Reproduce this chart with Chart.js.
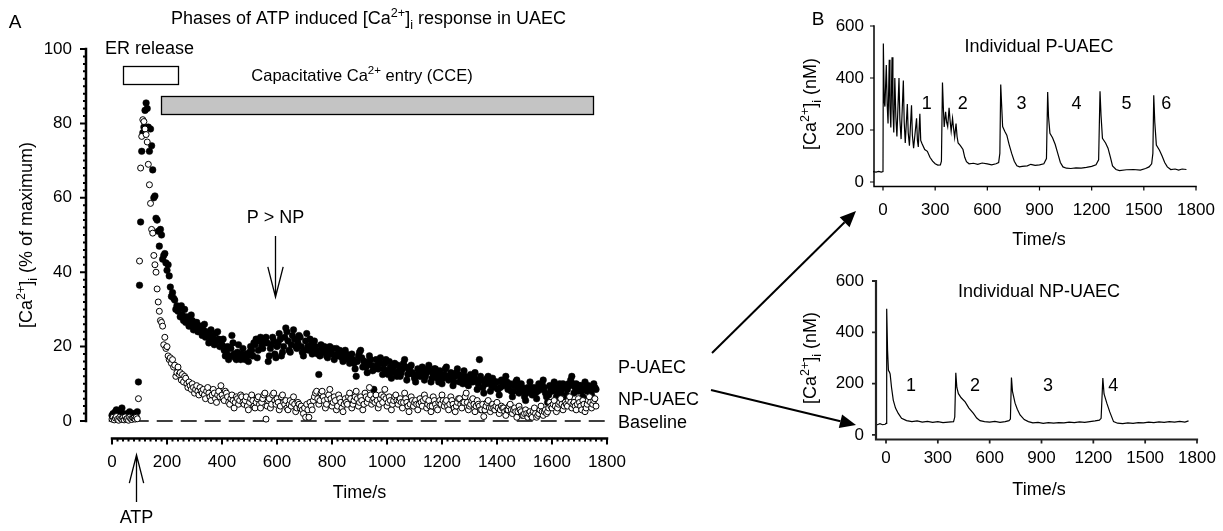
<!DOCTYPE html>
<html>
<head>
<meta charset="utf-8">
<script src="https://cdn.jsdelivr.net/npm/chart.js@4.4.1/dist/chart.umd.min.js"></script>
<style>
  html, body { margin: 0; padding: 0; background: #fff; }
  #wrap { position: relative; width: 1223px; height: 531px; overflow: hidden; }
  canvas { position: absolute; left: 0; top: 0; }
</style>
</head>
<body>
<div id="wrap">
  <canvas id="chartA" width="1223" height="531"></canvas>
  <canvas id="chartB1" width="1223" height="531"></canvas>
  <canvas id="chartB2" width="1223" height="531"></canvas>
</div>
<script>
// ---------- panel A : averaged response, % of maximum ----------
const sampleStep = 4; // seconds between frames

const pUAEC = [
  1.5, 2, 1, 2.5, 3, 2, 1, 1.5, 2.5, 3.5, 2, 1, 0.5, 1.5, 2, 1, 2.5, 1.5, 1, 2,
  1.5, 2, 1, 2.5, 10.5, 36.5, 53.5, 72.5, 77.5, 79, 83.5, 85.5, 84, 79, 72.5, 78.5, 74, 67.5, 60, 60.5,
  54.5, 54, 51, 47, 51.5, 50, 43.5, 44.5, 45, 42.5, 40.5, 42, 39, 36, 33.5, 34.5, 33, 32.5, 30, 31,
  29.5, 30, 28, 31, 28.5, 27, 30, 26.5, 28, 27.5, 25.5, 26, 28.5, 27, 24.5, 26, 25, 26.5, 24, 25.5,
  24, 25.5, 23, 24.5, 26, 22.5, 24, 23.5, 21, 22.5, 24.5, 23, 22, 20.5, 23.5, 21.5, 24, 22, 20, 21.5,
  20.5, 22, 19, 17.5, 18.5, 20, 16.5, 17.5, 19.5, 23, 21, 18, 17, 16.5, 18.5, 20.5, 17, 16.5, 18, 19.5,
  17, 16.5, 18, 17.5, 16, 18.5, 20, 19, 17.5, 21, 20.5, 22, 17, 19, 21.5, 22.5, 20, 19.5, 21, 22,
  22.5, 21, 16, 17.5, 19.5, 20.5, 22.5, 21.5, 18, 17, 20, 21, 23.5, 22, 17.5, 18.5, 20, 22.5, 25, 24,
  21.5, 19, 18.5, 20.5, 23, 24.5, 22, 20, 19.5, 21, 23, 22.5, 20, 18.5, 17.5, 19, 21.5, 23.5, 20, 19,
  22, 20.5, 18, 19.5, 21.5, 20, 19, 18, 12.5, 17.5, 20.5, 19.5, 18.5, 20, 19.5, 17.5, 17, 18.5, 20, 19,
  18, 19.5, 16.5, 17.5, 19.5, 18, 17.5, 19, 18.5, 17, 16, 17.5, 19, 18, 17, 16.5, 15.5, 17, 18, 16.5,
  15.5, 14, 12, 16, 17.5, 18.5, 19, 17, 14.5, 16, 16, 14.5, 13, 15.5, 17.5, 16.5, 15, 13.5, 8.5, 14,
  16.5, 15, 14, 15.5, 17, 15.5, 12.5, 14, 15.5, 16.5, 13.5, 12.5, 16, 14.5, 11.5, 13, 14.5, 15.5, 13, 12,
  15, 13.5, 12, 13, 14, 15.5, 16.5, 14.5, 11, 12.5, 13.5, 14.5, 15, 13, 12.5, 11.5, 10.5, 12, 14, 13,
  12, 13, 14.5, 13.5, 11, 12, 13, 14, 15, 13.5, 10.5, 11.5, 12.5, 14, 14, 12.5, 11.5, 10.5, 13.5, 12.5,
  10, 11.5, 12.5, 14, 14.5, 12, 11, 12, 13, 11.5, 9.5, 10.5, 12, 13, 14, 12.5, 10.5, 11.5, 12, 10,
  13.5, 12, 11, 10, 9.5, 11, 12.5, 11.5, 10.5, 12, 13, 11, 8.5, 10, 16.5, 12, 11, 9, 7.5, 10,
  10, 11.5, 12, 10.5, 8, 9.5, 11.5, 10, 9, 10.5, 10.5, 8.5, 7, 9, 11, 10, 9.5, 11, 12, 10.5,
  8.5, 9.5, 10, 8, 6.5, 8, 9.5, 10.5, 11, 9, 7.5, 8.5, 10, 9, 8, 6.5, 5.5, 7.5, 9, 8,
  10.5, 9, 7, 8, 9, 7.5, 6, 8, 10, 9.5, 8.5, 10, 11, 9, 7.5, 6.5, 5, 7, 9.5, 8.5,
  8, 9.5, 10.5, 9, 6.5, 7.5, 9, 10, 7.5, 8.5, 10, 9, 5.5, 7, 8.5, 10, 9.5, 11, 12, 10,
  7.5, 9, 10, 8.5, 8, 9.5, 9.5, 8, 6.5, 8.5, 10.5, 9, 8, 9.5, 9, 8, 7, 8.5, 10, 9,
  8.5
];

const npUAEC = [
  0.5, 1, 0.3, 0.8, 1.2, 0.5, 0.2, 1, 0.6, 0.4, 0.9, 0.3, 1.1, 0.5, 0.7, 0.2, 1, 0.6, 0.4, 0.8,
  0.8, 0.5, 1, 0.6, 6, 43, 68, 76.5, 81, 80.5, 78.5, 77, 75, 69, 63.5, 58.5, 51.5, 50.5, 44.5, 42,
  40, 35.5, 32, 29.5, 27, 26.5, 25.5, 20.5, 22.5, 19.5, 20, 17.5, 16.5, 17, 15.5, 16.5, 14.5, 15, 12, 13,
  14.5, 12.5, 13, 11, 12.5, 10.5, 12, 11.5, 10, 9, 10.5, 9.5, 8.5, 10, 9, 7.5, 8.5, 9.5, 8, 7,
  9, 8, 7.5, 8.5, 7, 6, 8, 9, 7.5, 6.5, 5.5, 7, 8.5, 7.5, 6, 5, 7, 8, 6.5, 9.5,
  7, 6, 5.5, 8, 7.5, 6.5, 5, 4.5, 6, 7, 5.5, 3.5, 5, 6.5, 6, 4.5, 5.5, 7, 6.5, 5,
  4.5, 5.5, 6.5, 4, 3, 5, 6, 7, 5.5, 4, 3.5, 5, 6, 6.5, 4.5, 3.5, 5, 6, 7, 7.5,
  0.5, 4, 5.5, 6, 3.5, 4.5, 7, 7.5, 5.5, 4.5, 6, 5, 3, 4, 6.5, 7, 5, 4.5, 5.5, 3.5,
  3, 4.5, 5.5, 4, 5, 6.5, 4.5, 2.5, 3.5, 5, 4.5, 3.5, 4, 3, 2, 3.5, 1, 4.5, 3, 1,
  5, 4, 3, 5.5, 6.5, 7.5, 8, 6, 4.5, 5.5, 7.5, 8, 6.5, 5.5, 3.5, 4.5, 6, 7, 8.5, 6,
  4, 5, 6.5, 5.5, 3, 4, 7, 6, 5, 3.5, 2.5, 4.5, 6, 5, 4.5, 6.5, 7.5, 6, 3.5, 4.5,
  5.5, 6.5, 8, 6, 4, 5, 6.5, 5.5, 3, 4.5, 7.5, 6.5, 5, 6, 9, 7, 4.5, 5.5, 6, 5,
  7, 5.5, 3.5, 4.5, 6, 7, 5, 6.5, 8.5, 6, 4, 5, 6.5, 5.5, 3, 4.5, 5.5, 6.5, 7, 5.5,
  4.5, 5.5, 6, 5, 3.5, 5, 7.5, 6, 5, 4, 2.5, 4.5, 6.5, 5.5, 4, 5, 5.5, 4.5, 3, 4.5,
  6, 5, 4, 5.5, 7, 6, 3.5, 4.5, 5.5, 4, 2.5, 4, 6.5, 5.5, 4.5, 3.5, 3, 5, 5.5, 4.5,
  7, 5.5, 4, 5, 5.5, 4, 3, 4.5, 6.5, 5.5, 4.5, 3.5, 2.5, 4, 5, 6, 6, 4.5, 3.5, 5,
  5, 6.5, 7.5, 5, 3, 4, 4.5, 5.5, 6, 4.5, 2.5, 4, 5.5, 4.5, 4, 3, 3, 4.5, 1.2, 3,
  4, 5, 5.5, 3.5, 2.5, 3.5, 4.5, 3.5, 3, 4, 5, 3.5, 2, 3, 4, 3.5, 3.5, 2.5, 1.5, 3,
  3, 4, 4.5, 3, 2, 3, 3.5, 2.5, 1, 2.5, 4, 3, 2.5, 1.5, 1.5, 2, 3, 2, 1, 2,
  2.5, 1.5, 1, 2.5, 3.5, 2, 1, 1.5, 2, 3, 4, 2.5, 1.5, 2.5, 3, 2, 2.5, 3.5, 5, 4,
  3.5, 4.5, 5.5, 4, 2.5, 3.5, 4.5, 5, 6, 4.5, 3, 4, 5, 4.5, 4, 5.5, 6.5, 5, 3.5, 4.5,
  5, 4, 3, 4.5, 6, 5, 4, 3, 5.5, 4.5, 2.5, 3.5, 4.5, 5.5, 6.5, 5, 3.5, 4.5, 5.5, 6,
  4
];

const timeA = pUAEC.map((v, i) => i * sampleStep);
const baselineX = [-12, 1800];
const baselineY = [0, 0];
const erPhase = [40, 240];     // s
const ccePhase = [178, 1749];  // s
const atpTime = 87;
const pnpTime = 593;

const ticksAx = [0, 200, 400, 600, 800, 1000, 1200, 1400, 1600, 1800];
const ticksAy = [0, 20, 40, 60, 80, 100];

// ---------- panel B : single cell traces, nM ----------
const traceP = [
  [-57,40],[-40,38],[-25,41],[-10,38],[0,40],[2,533],[7,310],[11,290],[19,450],[24,300],
  [29,225],[36,470],[40,290],[45,210],[52,480],[57,280],[62,190],[68,400],[74,250],[80,175],
  [92,400],[97,240],[104,165],[117,390],[122,230],[128,150],[140,300],[145,190],[152,140],
  [164,295],[169,180],[176,130],[193,245],[198,160],[203,135],[212,262],[217,160],[224,148],
  [240,125],[255,118],[270,95],[285,80],[300,70],[315,65],[330,66],[336,80],[342,383],
  [348,270],[352,212],[360,270],[366,230],[372,213],[380,285],[386,235],[392,195],[400,245],
  [406,205],[412,172],[420,225],[426,175],[432,150],[445,140],[460,125],[470,95],[480,78],
  [495,70],[520,72],[545,68],[570,73],[600,70],[625,66],[650,70],[665,75],[672,110],[677,375],
  [682,300],[688,213],[700,195],[712,180],[725,145],[740,110],[755,80],[770,62],[785,58],
  [800,60],[830,62],[850,68],[875,64],[900,66],[925,70],[940,90],[947,346],[952,250],[960,187],
  [975,170],[990,145],[1005,110],[1020,75],[1035,58],[1055,53],[1080,52],[1110,54],[1140,53],
  [1170,56],[1200,60],[1225,66],[1240,85],[1248,349],[1254,255],[1262,168],[1280,150],
  [1294,130],[1308,95],[1320,62],[1340,48],[1360,44],[1400,47],[1440,48],[1480,46],[1510,52],
  [1530,58],[1545,70],[1552,110],[1557,334],[1563,230],[1572,142],[1590,122],[1605,100],
  [1620,75],[1635,58],[1655,48],[1680,50],[1700,46],[1720,50],[1745,48]
];

const traceNP = [
  [-64,43],[-50,40],[-35,44],[-20,40],[-5,42],[0,45],[4,492],[9,330],[14,252],[20,245],
  [24,237],[32,185],[42,136],[55,105],[71,84],[90,65],[119,56],[150,52],[180,55],[210,50],
  [240,53],[270,49],[300,52],[330,48],[360,50],[391,52],[398,70],[404,242],[410,185],[419,161],
  [435,145],[458,129],[480,105],[506,84],[525,66],[544,56],[570,52],[600,50],[630,53],[660,49],
  [690,52],[712,56],[720,62],[726,224],[732,170],[747,124],[760,100],[776,78],[800,60],[824,52],
  [850,47],[880,49],[910,45],[940,48],[970,46],[1000,48],[1030,47],[1060,50],[1090,48],
  [1120,51],[1150,49],[1180,52],[1210,55],[1235,58],[1245,65],[1255,222],[1262,160],[1278,124],
  [1295,90],[1317,52],[1340,46],[1370,44],[1400,47],[1430,45],[1460,48],[1490,47],[1520,50],
  [1550,48],[1580,51],[1610,49],[1640,52],[1670,50],[1700,53],[1730,50],[1751,55]
];

const ticksBx = [0, 300, 600, 900, 1200, 1500, 1800];
const ticksBy = [0, 200, 400, 600];
const peakNumP_t = [252, 459, 797, 1113, 1400, 1629];
const peakNumNP_t = [145, 515, 938, 1315];

// ---------- helpers ----------
const FONT = '"Liberation Sans", Arial, Helvetica, sans-serif';
const caLabel = [{t: '[Ca'}, {t: '2+', sup: true}, {t: ']'}, {t: 'i', sub: true}];

function richWidth(ctx, parts, size) {
  let w = 0;
  parts.forEach(p => {
    ctx.font = ((p.sup || p.sub) ? size * 0.7 : size) + 'px ' + FONT;
    w += ctx.measureText(p.t).width;
  });
  return w;
}

function drawRich(ctx, parts, x, y, size, align) {
  const w = richWidth(ctx, parts, size);
  let cx = align === 'center' ? x - w / 2 : align === 'right' ? x - w : x;
  ctx.textAlign = 'left';
  ctx.textBaseline = 'middle';
  parts.forEach(p => {
    const s = (p.sup || p.sub) ? size * 0.7 : size;
    ctx.font = s + 'px ' + FONT;
    const dy = p.sup ? -size * 0.33 : p.sub ? size * 0.38 : 0;
    ctx.fillText(p.t, cx, y + dy);
    cx += ctx.measureText(p.t).width;
  });
}

function text(ctx, s, x, y, size, align) {
  drawRich(ctx, [{t: s}], x, y, size, align);
}

function openArrow(ctx, x1, y1, x2, y2, len, spread) {
  const a = Math.atan2(y2 - y1, x2 - x1);
  ctx.beginPath();
  ctx.moveTo(x1, y1); ctx.lineTo(x2, y2);
  ctx.moveTo(x2 - len * Math.cos(a - spread), y2 - len * Math.sin(a - spread));
  ctx.lineTo(x2, y2);
  ctx.lineTo(x2 - len * Math.cos(a + spread), y2 - len * Math.sin(a + spread));
  ctx.stroke();
}

function solidArrow(ctx, x1, y1, x2, y2) {
  const a = Math.atan2(y2 - y1, x2 - x1);
  const len = 16, hw = 7;
  const bx = x2 - len * Math.cos(a), by = y2 - len * Math.sin(a);
  ctx.beginPath();
  ctx.moveTo(x1, y1); ctx.lineTo(bx, by);
  ctx.stroke();
  ctx.beginPath();
  ctx.moveTo(x2, y2);
  ctx.lineTo(bx + hw * Math.sin(a), by - hw * Math.cos(a));
  ctx.lineTo(bx - hw * Math.sin(a), by + hw * Math.cos(a));
  ctx.closePath();
  ctx.fill();
}

// axis frame drawn with the same polyline calls as the arrows (which do show)
function drawFrame(chart, o) {
  const ctx = chart.ctx, xs = chart.scales.x, ys = chart.scales.y;
  const sx = xs.getPixelForValue(o.xmin) - 1 + o.nudge;
  const axY = ys.getPixelForValue(o.ymin) + 0.5 - o.nudge;
  const yTopV = o.yTicks[o.yTicks.length - 1];
  const xEndV = o.xTicks[o.xTicks.length - 1];
  ctx.save();
  ctx.strokeStyle = o.color;
  ctx.lineWidth = o.lw;
  ctx.lineCap = 'square';
  ctx.beginPath();
  ctx.moveTo(sx, ys.getPixelForValue(yTopV));
  ctx.lineTo(sx, o.spineToAxis ? axY : ys.getPixelForValue(o.yTicks[0]));
  ctx.moveTo(o.xFromSpine ? sx : xs.getPixelForValue(o.xTicks[0]), axY);
  ctx.lineTo(xs.getPixelForValue(xEndV), axY);
  ctx.stroke();
  ctx.lineWidth = o.lw * 0.8;
  ctx.lineCap = 'butt';
  ctx.beginPath();
  for (let v = o.yTicks[0]; v <= yTopV + 1e-6; v += o.yMinor) {
    const major = o.yTicks.some(t => Math.abs(t - v) < 1e-6);
    const py = ys.getPixelForValue(v);
    ctx.moveTo(sx, py);
    ctx.lineTo(sx - (major ? o.majorLen : o.minorLen), py);
  }
  for (let t = o.xTicks[0]; t <= xEndV + 1e-6; t += o.xMinor) {
    const major = o.xTicks.some(v => Math.abs(v - t) < 1e-6);
    const px = xs.getPixelForValue(t);
    ctx.moveTo(px, axY);
    ctx.lineTo(px, axY + (major ? o.majorLen : o.minorLen));
  }
  ctx.stroke();
  ctx.fillStyle = '#000';
  o.xTicks.forEach(t => text(ctx, String(t), xs.getPixelForValue(t), o.xLabelY, o.tickSize, 'center'));
  o.yTicks.forEach(v => text(ctx, String(v), o.yLabelX, ys.getPixelForValue(v), o.tickSize, 'right'));
  ctx.restore();
}

// ---------- panel A ----------
const annotA = {
  id: 'annotA',
  afterDatasetsDraw(chart) {
    const ctx = chart.ctx, xs = chart.scales.x, ys = chart.scales.y;
    drawFrame(chart, {
      xmin: -91, ymin: -4.57, xTicks: ticksAx, yTicks: ticksAy, xMinor: 20, yMinor: 2,
      majorLen: 6, minorLen: 3, tickSize: 17, xLabelY: 462, yLabelX: 72,
      spineToAxis: false, xFromSpine: false, color: '#000', lw: 2.5, nudge: 0
    });
    ctx.save();
    ctx.fillStyle = '#000';
    ctx.strokeStyle = '#000';
    ctx.lineWidth = 1.3;

    // phase bars
    const bar = (span, v0, v1, fill) => {
      const x0 = Math.round(xs.getPixelForValue(span[0])) + 0.5, x1 = Math.round(xs.getPixelForValue(span[1])) + 0.5;
      const y0 = Math.round(ys.getPixelForValue(v1)) + 0.5, y1 = Math.round(ys.getPixelForValue(v0)) + 0.5;
      ctx.fillStyle = fill;
      ctx.fillRect(x0, y0, x1 - x0, y1 - y0);
      ctx.strokeRect(x0, y0, x1 - x0, y1 - y0);
      ctx.fillStyle = '#000';
    };
    bar(erPhase, 90.6, 95.4, '#fff');
    bar(ccePhase, 82.5, 87.4, '#c4c4c4');

    text(ctx, 'A', 15, 23, 19, 'center');
    drawRich(ctx, [{t: 'Phases of ATP induced '}].concat(caLabel, [{t: ' response in UAEC'}]), 171, 19, 18, 'left');
    text(ctx, 'ER release', 105, 49, 18, 'left');
    drawRich(ctx, [{t: 'Capacitative Ca'}, {t: '2+', sup: true}, {t: ' entry (CCE)'}], 362, 76, 16.5, 'center');

    // P > NP arrow
    const px = Math.round(xs.getPixelForValue(pnpTime)) + 0.5;
    text(ctx, 'P > NP', px, 218, 18, 'center');
    openArrow(ctx, px, 236, px, 297, 31, 0.25);

    // ATP arrow
    const ax = Math.round(xs.getPixelForValue(atpTime)) + 0.5;
    openArrow(ctx, ax, 502, ax, 455, 29, 0.25);
    text(ctx, 'ATP', ax, 518, 18, 'center');

    text(ctx, 'Time/s', xs.getPixelForValue(900), 493, 18, 'center');

    ctx.save();
    ctx.translate(27, 235);
    ctx.rotate(-Math.PI / 2);
    drawRich(ctx, caLabel.concat([{t: ' (% of maximum)'}]), 0, 0, 18, 'center');
    ctx.restore();

    text(ctx, 'P-UAEC', 618, 368, 18, 'left');
    text(ctx, 'NP-UAEC', 618, 400, 18, 'left');
    text(ctx, 'Baseline', 618, 423, 18, 'left');

    // arrows towards panel B
    ctx.lineWidth = 2;
    solidArrow(ctx, 712, 353, 856, 211);
    solidArrow(ctx, 711, 390, 856, 425);
    ctx.restore();
  }
};

new Chart(document.getElementById('chartA'), {
  type: 'scatter',
  data: {
    datasets: [
      {
        label: 'NP-UAEC',
        data: timeA.map((t, i) => ({x: t, y: npUAEC[i]})),
        pointRadius: 3, backgroundColor: '#fff', borderColor: '#000', borderWidth: 1,
        order: 0, clip: false
      },
      {
        label: 'P-UAEC',
        data: timeA.map((t, i) => ({x: t, y: pUAEC[i]})),
        pointRadius: 3.3, backgroundColor: '#000', borderColor: '#000', borderWidth: 0.5,
        order: 1, clip: false
      },
      {
        type: 'line',
        label: 'Baseline',
        data: baselineX.map((x, i) => ({x: x, y: baselineY[i]})),
        borderColor: '#000', borderWidth: 1.5, borderDash: [16, 8],
        pointRadius: 0, order: 2, clip: false
      }
    ]
  },
  options: {
    responsive: false, animation: false, devicePixelRatio: 1,
    layout: {padding: {left: 87, right: 616, top: 49, bottom: 93}},
    scales: {
      x: {type: 'linear', min: -91, max: 1800, display: false},
      y: {type: 'linear', min: -4.57, max: 100, display: false}
    },
    plugins: {legend: {display: false}, tooltip: {enabled: false}}
  },
  plugins: [annotA]
});

// ---------- panel B ----------
function traceChart(id, trace, pad, xmin, ymin, titleText, titleY, nums, numV, xLabelY, timeY, yTitleY, letter, frameColor, frameLw) {
  const plug = {
    id: 'annot' + id,
    afterDatasetsDraw(chart) {
      const ctx = chart.ctx, xs = chart.scales.x, ys = chart.scales.y;
      drawFrame(chart, {
        xmin: xmin, ymin: ymin, xTicks: ticksBx, yTicks: ticksBy, xMinor: 300, yMinor: 200,
        majorLen: 4, minorLen: 4, tickSize: 17, xLabelY: xLabelY, yLabelX: 864,
        spineToAxis: true, xFromSpine: true, color: frameColor, lw: frameLw, nudge: 2
      });
      ctx.save();
      ctx.fillStyle = '#000';
      text(ctx, titleText, 1039, titleY, 18, 'center');
      nums.forEach((t, i) => text(ctx, String(i + 1), xs.getPixelForValue(t), ys.getPixelForValue(numV), 18, 'center'));
      text(ctx, 'Time/s', 1039, timeY, 18, 'center');
      ctx.save();
      ctx.translate(811, yTitleY);
      ctx.rotate(-Math.PI / 2);
      drawRich(ctx, caLabel.concat([{t: ' (nM)'}]), 0, 0, 18, 'center');
      ctx.restore();
      if (letter) text(ctx, letter, 818, 20, 19, 'center');
      ctx.restore();
    }
  };
  new Chart(document.getElementById(id), {
    type: 'line',
    data: {
      datasets: [{
        data: trace.map(p => ({x: p[0], y: p[1]})),
        borderColor: '#000', borderWidth: 1.2, pointRadius: 0, tension: 0, fill: false
      }]
    },
    options: {
      responsive: false, animation: false, devicePixelRatio: 1,
      layout: {padding: pad},
      scales: {
        x: {type: 'linear', min: xmin, max: 1800, display: false},
        y: {type: 'linear', min: ymin, max: 600, display: false}
      },
      plugins: {legend: {display: false}, tooltip: {enabled: false}}
    },
    plugins: [plug]
  });
}

traceChart('chartB1', traceP, {left: 873, right: 27, top: 26, bottom: 343}, -57.5, -23.1,
  'Individual P-UAEC', 47, peakNumP_t, 300, 210, 240, 104, 'B', '#000', 1.5);
traceChart('chartB2', traceNP, {left: 875, right: 26, top: 281, bottom: 90}, -63.7, -23.4,
  'Individual NP-UAEC', 292, peakNumNP_t, 190, 458, 490, 358, null, '#222', 2.2);
</script>
</body>
</html>
